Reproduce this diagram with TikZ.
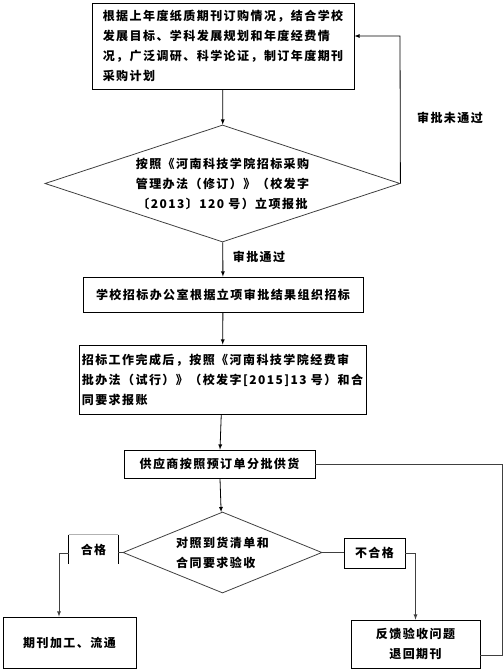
\documentclass[tikz,border=0pt]{standalone}
\usepackage{fontspec}
\newfontfamily\cjk[LetterSpace=12]{Noto Sans CJK SC}
\usepackage{tikz}
\usetikzlibrary{arrows,calc,positioning,shapes.geometric}

\tikzset{
  stepbox/.style={draw=black,line width=0.8pt,rectangle,inner sep=0pt},
  gatebox/.style={draw=black!75,line width=0.8pt,diamond,inner sep=0pt},
  tagtext/.style={inner sep=0pt}
}

\begin{document}
\begin{tikzpicture}[x=1pt,y=-1pt,>=latex,line width=0.8pt,align=center,
    font=\cjk\bfseries\fontsize{12}{20}\selectfont]
		\useasboundingbox (0,0) rectangle (503,671);
		% boxes and decisions
		\node[stepbox,minimum width=262pt,minimum height=86pt,align=left] (plan) at (223,46)
			{根据上年度纸质期刊订购情况，结合学校\\发展目标、学科发展规划和年度经费情\\况，广泛调研、科学论证，制订年度期刊\\采购计划};
		\node[gatebox,aspect=3.03,minimum width=355pt,minimum height=117pt] (approve) at (222.5,183.5)
			{按照《河南科技学院招标采购\\管理办法（修订）》（校发字\\〔2013〕120 号）立项报批};
		\node[stepbox,minimum width=280pt,minimum height=35pt] (tender) at (223,294.5)
			{学校招标办公室根据立项审批结果组织招标};
		\node[stepbox,minimum width=287pt,minimum height=69pt,align=left] (account) at (222.5,379.5)
			{招标工作完成后，按照《河南科技学院经费审\\批办法（试行）》（校发字[2015]13 号）和合\\同要求报账};
		\node[stepbox,minimum width=191pt,minimum height=28pt] (supply) at (219.5,464)
			{供应商按照预订单分批供货};
		\node[gatebox,aspect=2.46,minimum width=199pt,minimum height=81pt,align=left] (check) at (222.5,552.5)
			{对照到货清单和\\合同要求验收};
		\node[stepbox,minimum width=133pt,minimum height=51pt] (shelve) at (69.5,642.5)
			{期刊加工、流通};
		\node[stepbox,minimum width=129pt,minimum height=48pt] (giveback) at (415.5,644)
			{反馈验收问题\\退回期刊};
		% branch tags
		\node[tagtext,minimum width=49pt,minimum height=29pt] (pass) at (93.5,549.5) {合格};
		\node[stepbox,minimum width=61pt,minimum height=30pt] (fail) at (374.5,553) {不合格};
		\draw[black!30] (pass.north west) -- (pass.north east);
		\draw (pass.north west) -- (pass.south west);
		\draw (pass.north east) -- (pass.south east);
		\node[tagtext] (approved) at (259,257) {审批通过};
		\node[tagtext] (rejected) at (450,118) {审批未通过};
		% turning points
		\coordinate (backtop) at (400,36);
		\coordinate (passturn) at (59,553);
		\coordinate (loopbot) at (502,655);
		% connectors
		\draw[->] (plan) -- (approve);
		\draw[->] (approve) -- (tender);
		\draw[->] (approve.east) -- (backtop) -- (backtop -| plan.east);
		\draw[->] (tender) -- (account);
		\draw[->] (account) -- (supply);
		\draw[->] (supply) -- (check);
		\draw[black!75] (check.west) -- (check.west -| pass.east);
		\draw[black!75] (pass.west |- passturn) -- (passturn);
		\draw[black!75,->] (passturn) -- (passturn |- shelve.north);
		\draw[black!75] (check.east) -- (check.east -| fail.west);
		\draw[black!75,->] (fail.east) -| (giveback.north);
		\draw[black!75] (giveback.east |- loopbot) -- (loopbot) |- (supply.east);
	\end{tikzpicture}
\end{document}
